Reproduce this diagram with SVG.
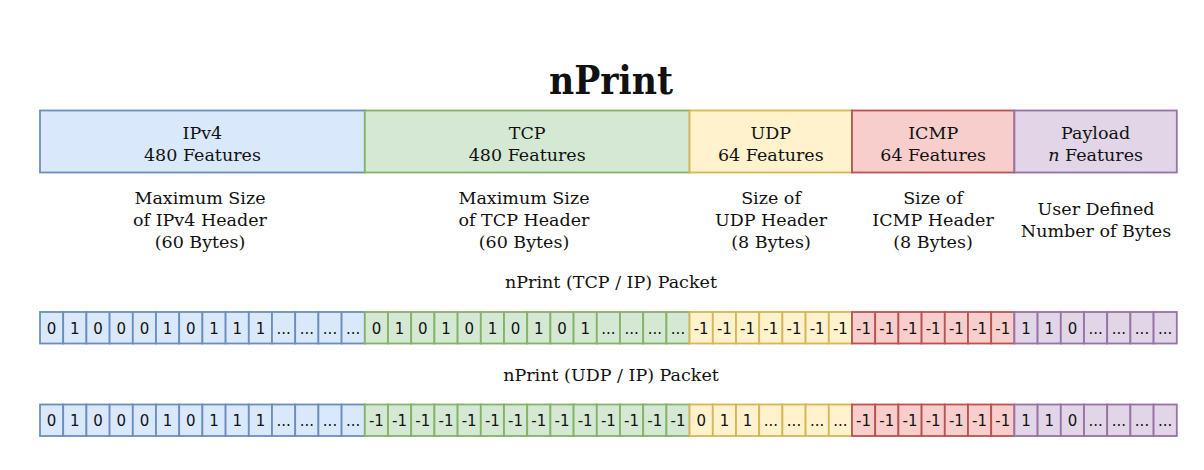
<svg xmlns="http://www.w3.org/2000/svg" width="1204" height="470" viewBox="0 0 1204 470">
<style>
.t{font-family:"DejaVu Serif","Liberation Serif",serif;font-size:17.5px;fill:#111;text-anchor:middle}
.c{font-family:"DejaVu Sans","Verdana",sans-serif;font-size:15px;fill:#111;text-anchor:middle}
.b{fill:#dae8fc;stroke:#6c8ebf;stroke-width:1.8}
.g{fill:#d5e8d4;stroke:#82b366;stroke-width:1.8}
.y{fill:#fff2cc;stroke:#d6b656;stroke-width:1.8}
.r{fill:#f8cecc;stroke:#b85450;stroke-width:1.8}
.p{fill:#e1d5e7;stroke:#9673a6;stroke-width:1.8}
</style>
<rect width="1204" height="470" fill="#fff"/>
<text id="title" x="611" y="94" font-family="DejaVu Serif, Liberation Serif, serif" font-weight="bold" font-size="40" text-anchor="middle" fill="#111" textLength="124" lengthAdjust="spacingAndGlyphs">nPrint</text>

<g id="hdr-ipv4"><rect class="b" x="40" y="110.5" width="324.8" height="62"/><text class="t" x="202.4" y="139">IPv4</text><text class="t" x="202.4" y="161">480 Features</text></g>
<g id="hdr-tcp"><rect class="g" x="364.8" y="110.5" width="324.8" height="62"/><text class="t" x="527.2" y="139">TCP</text><text class="t" x="527.2" y="161">480 Features</text></g>
<g id="hdr-udp"><rect class="y" x="689.6" y="110.5" width="162.4" height="62"/><text class="t" x="770.8" y="139">UDP</text><text class="t" x="770.8" y="161">64 Features</text></g>
<g id="hdr-icmp"><rect class="r" x="852" y="110.5" width="162.4" height="62"/><text class="t" x="933.2" y="139">ICMP</text><text class="t" x="933.2" y="161">64 Features</text></g>
<g id="hdr-payload"><rect class="p" x="1014.4" y="110.5" width="162.4" height="62"/><text class="t" x="1095.6" y="139">Payload</text><text class="t" x="1095.6" y="161"><tspan font-style="italic">n</tspan> Features</text></g>

<g id="desc-ipv4"><text class="t" x="200" y="204">Maximum Size</text><text class="t" x="200" y="226">of IPv4 Header</text><text class="t" x="200" y="248">(60 Bytes)</text></g>
<g id="desc-tcp"><text class="t" x="524" y="204">Maximum Size</text><text class="t" x="524" y="226">of TCP Header</text><text class="t" x="524" y="248">(60 Bytes)</text></g>
<g id="desc-udp"><text class="t" x="771" y="204">Size of</text><text class="t" x="771" y="226">UDP Header</text><text class="t" x="771" y="248">(8 Bytes)</text></g>
<g id="desc-icmp"><text class="t" x="933" y="204">Size of</text><text class="t" x="933" y="226">ICMP Header</text><text class="t" x="933" y="248">(8 Bytes)</text></g>
<g id="desc-payload"><text class="t" x="1096" y="215">User Defined</text><text class="t" x="1096" y="237">Number of Bytes</text></g>

<text id="label-tcpip" class="t" x="611" y="288">nPrint (TCP / IP) Packet</text>
<text id="label-udpip" class="t" x="611" y="381">nPrint (UDP / IP) Packet</text>

<g id="row1">
<g id="r1-ipv4">
<rect class="b" x="40" y="312" width="23.2" height="31.5"/><rect class="b" x="63.2" y="312" width="23.2" height="31.5"/><rect class="b" x="86.4" y="312" width="23.2" height="31.5"/><rect class="b" x="109.6" y="312" width="23.2" height="31.5"/><rect class="b" x="132.8" y="312" width="23.2" height="31.5"/><rect class="b" x="156" y="312" width="23.2" height="31.5"/><rect class="b" x="179.2" y="312" width="23.2" height="31.5"/><rect class="b" x="202.4" y="312" width="23.2" height="31.5"/><rect class="b" x="225.6" y="312" width="23.2" height="31.5"/><rect class="b" x="248.8" y="312" width="23.2" height="31.5"/><rect class="b" x="272" y="312" width="23.2" height="31.5"/><rect class="b" x="295.2" y="312" width="23.2" height="31.5"/><rect class="b" x="318.4" y="312" width="23.2" height="31.5"/><rect class="b" x="341.6" y="312" width="23.2" height="31.5"/>
<text class="c" x="51.6" y="333.5">0</text><text class="c" x="74.8" y="333.5">1</text><text class="c" x="98" y="333.5">0</text><text class="c" x="121.2" y="333.5">0</text><text class="c" x="144.4" y="333.5">0</text><text class="c" x="167.6" y="333.5">1</text><text class="c" x="190.8" y="333.5">0</text><text class="c" x="214" y="333.5">1</text><text class="c" x="237.2" y="333.5">1</text><text class="c" x="260.4" y="333.5">1</text><text class="c" x="283.6" y="333.5">...</text><text class="c" x="306.8" y="333.5">...</text><text class="c" x="330" y="333.5">...</text><text class="c" x="353.2" y="333.5">...</text>
</g>
<g id="r1-tcp">
<rect class="g" x="364.8" y="312" width="23.2" height="31.5"/><rect class="g" x="388" y="312" width="23.2" height="31.5"/><rect class="g" x="411.2" y="312" width="23.2" height="31.5"/><rect class="g" x="434.4" y="312" width="23.2" height="31.5"/><rect class="g" x="457.6" y="312" width="23.2" height="31.5"/><rect class="g" x="480.8" y="312" width="23.2" height="31.5"/><rect class="g" x="504" y="312" width="23.2" height="31.5"/><rect class="g" x="527.2" y="312" width="23.2" height="31.5"/><rect class="g" x="550.4" y="312" width="23.2" height="31.5"/><rect class="g" x="573.6" y="312" width="23.2" height="31.5"/><rect class="g" x="596.8" y="312" width="23.2" height="31.5"/><rect class="g" x="620" y="312" width="23.2" height="31.5"/><rect class="g" x="643.2" y="312" width="23.2" height="31.5"/><rect class="g" x="666.4" y="312" width="23.2" height="31.5"/>
<text class="c" x="376.4" y="333.5">0</text><text class="c" x="399.6" y="333.5">1</text><text class="c" x="422.8" y="333.5">0</text><text class="c" x="446" y="333.5">1</text><text class="c" x="469.2" y="333.5">0</text><text class="c" x="492.4" y="333.5">1</text><text class="c" x="515.6" y="333.5">0</text><text class="c" x="538.8" y="333.5">1</text><text class="c" x="562" y="333.5">0</text><text class="c" x="585.2" y="333.5">1</text><text class="c" x="608.4" y="333.5">...</text><text class="c" x="631.6" y="333.5">...</text><text class="c" x="654.8" y="333.5">...</text><text class="c" x="678" y="333.5">...</text>
</g>
<g id="r1-udp">
<rect class="y" x="689.6" y="312" width="23.2" height="31.5"/><rect class="y" x="712.8" y="312" width="23.2" height="31.5"/><rect class="y" x="736" y="312" width="23.2" height="31.5"/><rect class="y" x="759.2" y="312" width="23.2" height="31.5"/><rect class="y" x="782.4" y="312" width="23.2" height="31.5"/><rect class="y" x="805.6" y="312" width="23.2" height="31.5"/><rect class="y" x="828.8" y="312" width="23.2" height="31.5"/>
<text class="c" x="701.2" y="333.5">-1</text><text class="c" x="724.4" y="333.5">-1</text><text class="c" x="747.6" y="333.5">-1</text><text class="c" x="770.8" y="333.5">-1</text><text class="c" x="794" y="333.5">-1</text><text class="c" x="817.2" y="333.5">-1</text><text class="c" x="840.4" y="333.5">-1</text>
</g>
<g id="r1-icmp">
<rect class="r" x="852" y="312" width="23.2" height="31.5"/><rect class="r" x="875.2" y="312" width="23.2" height="31.5"/><rect class="r" x="898.4" y="312" width="23.2" height="31.5"/><rect class="r" x="921.6" y="312" width="23.2" height="31.5"/><rect class="r" x="944.8" y="312" width="23.2" height="31.5"/><rect class="r" x="968" y="312" width="23.2" height="31.5"/><rect class="r" x="991.2" y="312" width="23.2" height="31.5"/>
<text class="c" x="863.6" y="333.5">-1</text><text class="c" x="886.8" y="333.5">-1</text><text class="c" x="910" y="333.5">-1</text><text class="c" x="933.2" y="333.5">-1</text><text class="c" x="956.4" y="333.5">-1</text><text class="c" x="979.6" y="333.5">-1</text><text class="c" x="1002.8" y="333.5">-1</text>
</g>
<g id="r1-payload">
<rect class="p" x="1014.4" y="312" width="23.2" height="31.5"/><rect class="p" x="1037.6" y="312" width="23.2" height="31.5"/><rect class="p" x="1060.8" y="312" width="23.2" height="31.5"/><rect class="p" x="1084" y="312" width="23.2" height="31.5"/><rect class="p" x="1107.2" y="312" width="23.2" height="31.5"/><rect class="p" x="1130.4" y="312" width="23.2" height="31.5"/><rect class="p" x="1153.6" y="312" width="23.2" height="31.5"/>
<text class="c" x="1026" y="333.5">1</text><text class="c" x="1049.2" y="333.5">1</text><text class="c" x="1072.4" y="333.5">0</text><text class="c" x="1095.6" y="333.5">...</text><text class="c" x="1118.8" y="333.5">...</text><text class="c" x="1142" y="333.5">...</text><text class="c" x="1165.2" y="333.5">...</text>
</g>
</g>

<g id="row2">
<g id="r2-ipv4">
<rect class="b" x="40" y="404.5" width="23.2" height="31.5"/><rect class="b" x="63.2" y="404.5" width="23.2" height="31.5"/><rect class="b" x="86.4" y="404.5" width="23.2" height="31.5"/><rect class="b" x="109.6" y="404.5" width="23.2" height="31.5"/><rect class="b" x="132.8" y="404.5" width="23.2" height="31.5"/><rect class="b" x="156" y="404.5" width="23.2" height="31.5"/><rect class="b" x="179.2" y="404.5" width="23.2" height="31.5"/><rect class="b" x="202.4" y="404.5" width="23.2" height="31.5"/><rect class="b" x="225.6" y="404.5" width="23.2" height="31.5"/><rect class="b" x="248.8" y="404.5" width="23.2" height="31.5"/><rect class="b" x="272" y="404.5" width="23.2" height="31.5"/><rect class="b" x="295.2" y="404.5" width="23.2" height="31.5"/><rect class="b" x="318.4" y="404.5" width="23.2" height="31.5"/><rect class="b" x="341.6" y="404.5" width="23.2" height="31.5"/>
<text class="c" x="51.6" y="426">0</text><text class="c" x="74.8" y="426">1</text><text class="c" x="98" y="426">0</text><text class="c" x="121.2" y="426">0</text><text class="c" x="144.4" y="426">0</text><text class="c" x="167.6" y="426">1</text><text class="c" x="190.8" y="426">0</text><text class="c" x="214" y="426">1</text><text class="c" x="237.2" y="426">1</text><text class="c" x="260.4" y="426">1</text><text class="c" x="283.6" y="426">...</text><text class="c" x="306.8" y="426">...</text><text class="c" x="330" y="426">...</text><text class="c" x="353.2" y="426">...</text>
</g>
<g id="r2-tcp">
<rect class="g" x="364.8" y="404.5" width="23.2" height="31.5"/><rect class="g" x="388" y="404.5" width="23.2" height="31.5"/><rect class="g" x="411.2" y="404.5" width="23.2" height="31.5"/><rect class="g" x="434.4" y="404.5" width="23.2" height="31.5"/><rect class="g" x="457.6" y="404.5" width="23.2" height="31.5"/><rect class="g" x="480.8" y="404.5" width="23.2" height="31.5"/><rect class="g" x="504" y="404.5" width="23.2" height="31.5"/><rect class="g" x="527.2" y="404.5" width="23.2" height="31.5"/><rect class="g" x="550.4" y="404.5" width="23.2" height="31.5"/><rect class="g" x="573.6" y="404.5" width="23.2" height="31.5"/><rect class="g" x="596.8" y="404.5" width="23.2" height="31.5"/><rect class="g" x="620" y="404.5" width="23.2" height="31.5"/><rect class="g" x="643.2" y="404.5" width="23.2" height="31.5"/><rect class="g" x="666.4" y="404.5" width="23.2" height="31.5"/>
<text class="c" x="376.4" y="426">-1</text><text class="c" x="399.6" y="426">-1</text><text class="c" x="422.8" y="426">-1</text><text class="c" x="446" y="426">-1</text><text class="c" x="469.2" y="426">-1</text><text class="c" x="492.4" y="426">-1</text><text class="c" x="515.6" y="426">-1</text><text class="c" x="538.8" y="426">-1</text><text class="c" x="562" y="426">-1</text><text class="c" x="585.2" y="426">-1</text><text class="c" x="608.4" y="426">-1</text><text class="c" x="631.6" y="426">-1</text><text class="c" x="654.8" y="426">-1</text><text class="c" x="678" y="426">-1</text>
</g>
<g id="r2-udp">
<rect class="y" x="689.6" y="404.5" width="23.2" height="31.5"/><rect class="y" x="712.8" y="404.5" width="23.2" height="31.5"/><rect class="y" x="736" y="404.5" width="23.2" height="31.5"/><rect class="y" x="759.2" y="404.5" width="23.2" height="31.5"/><rect class="y" x="782.4" y="404.5" width="23.2" height="31.5"/><rect class="y" x="805.6" y="404.5" width="23.2" height="31.5"/><rect class="y" x="828.8" y="404.5" width="23.2" height="31.5"/>
<text class="c" x="701.2" y="426">0</text><text class="c" x="724.4" y="426">1</text><text class="c" x="747.6" y="426">1</text><text class="c" x="770.8" y="426">...</text><text class="c" x="794" y="426">...</text><text class="c" x="817.2" y="426">...</text><text class="c" x="840.4" y="426">...</text>
</g>
<g id="r2-icmp">
<rect class="r" x="852" y="404.5" width="23.2" height="31.5"/><rect class="r" x="875.2" y="404.5" width="23.2" height="31.5"/><rect class="r" x="898.4" y="404.5" width="23.2" height="31.5"/><rect class="r" x="921.6" y="404.5" width="23.2" height="31.5"/><rect class="r" x="944.8" y="404.5" width="23.2" height="31.5"/><rect class="r" x="968" y="404.5" width="23.2" height="31.5"/><rect class="r" x="991.2" y="404.5" width="23.2" height="31.5"/>
<text class="c" x="863.6" y="426">-1</text><text class="c" x="886.8" y="426">-1</text><text class="c" x="910" y="426">-1</text><text class="c" x="933.2" y="426">-1</text><text class="c" x="956.4" y="426">-1</text><text class="c" x="979.6" y="426">-1</text><text class="c" x="1002.8" y="426">-1</text>
</g>
<g id="r2-payload">
<rect class="p" x="1014.4" y="404.5" width="23.2" height="31.5"/><rect class="p" x="1037.6" y="404.5" width="23.2" height="31.5"/><rect class="p" x="1060.8" y="404.5" width="23.2" height="31.5"/><rect class="p" x="1084" y="404.5" width="23.2" height="31.5"/><rect class="p" x="1107.2" y="404.5" width="23.2" height="31.5"/><rect class="p" x="1130.4" y="404.5" width="23.2" height="31.5"/><rect class="p" x="1153.6" y="404.5" width="23.2" height="31.5"/>
<text class="c" x="1026" y="426">1</text><text class="c" x="1049.2" y="426">1</text><text class="c" x="1072.4" y="426">0</text><text class="c" x="1095.6" y="426">...</text><text class="c" x="1118.8" y="426">...</text><text class="c" x="1142" y="426">...</text><text class="c" x="1165.2" y="426">...</text>
</g>
</g>
</svg>
